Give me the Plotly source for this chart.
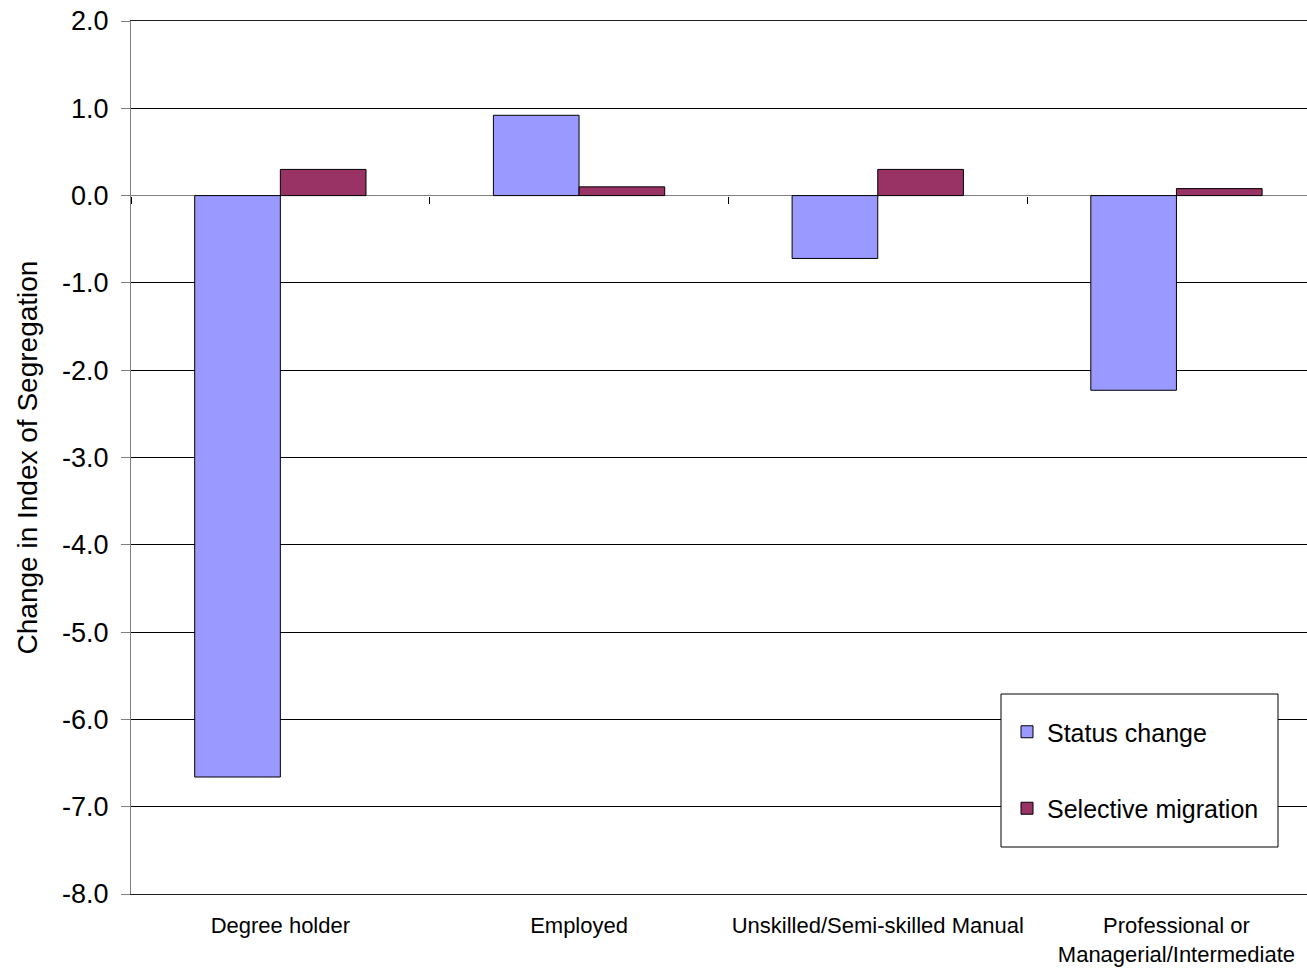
import plotly.graph_objects as go

categories = ["Degree holder", "Employed", "Unskilled/Semi-skilled Manual",
              "Professional or<br>Managerial/Intermediate"]
status_change = [-6.66, 0.92, -0.72, -2.23]
selective_migration = [0.30, 0.10, 0.30, 0.08]
y_ticks = [2, 1, 0, -1, -2, -3, -4, -5, -6, -7, -8]
y_tick_text = ["%.1f" % v for v in y_ticks]

FONT = "Liberation Sans, Arial, sans-serif"
W, H = 1307, 968
L, R, T, B = 131, 0, 21, 74
plot_w = W - L - R
plot_h = H - T - B

fig = go.Figure()
fig.add_trace(go.Bar(
    name="Status change", x=categories, y=status_change,
    marker=dict(color="#9999FF", line=dict(color="#000000", width=1)),
    legendgroup="a",
))
fig.add_trace(go.Bar(
    name="Selective migration", x=categories, y=selective_migration,
    marker=dict(color="#993366", line=dict(color="#000000", width=1)),
    legendgroup="b",
))
# helper axis that carries the category-boundary ticks along the zero line
fig.add_trace(go.Scatter(x=categories, y=[0] * len(categories), xaxis="x2",
                         mode="none", showlegend=False, hoverinfo="skip"))


def px_to_paper_x(px):
    return (px - L) / plot_w


def px_to_paper_y(py):
    return (H - B - py) / plot_h


# legend frame
fig.add_shape(type="rect", xref="paper", yref="paper", layer="above",
              x0=px_to_paper_x(1001), x1=px_to_paper_x(1278),
              y0=px_to_paper_y(847), y1=px_to_paper_y(694),
              fillcolor="white", line=dict(color="#000000", width=1))

x_range = [-0.5, -0.5 + plot_w / 298.7]

fig.update_layout(
    width=W, height=H,
    margin=dict(l=L, r=R, t=T, b=B, pad=0),
    paper_bgcolor="white", plot_bgcolor="white",
    barmode="group", bargap=0.4265, bargroupgap=0,
    font=dict(family=FONT, color="#000000"),
    showlegend=True,
    legend=dict(
        x=px_to_paper_x(1007), xanchor="left",
        y=px_to_paper_y(709), yanchor="top",
        bgcolor="rgba(0,0,0,0)", borderwidth=0,
        font=dict(size=25, family=FONT, color="#000000"),
        traceorder="grouped", tracegroupgap=41,
    ),
    xaxis=dict(
        type="category", range=x_range,
        showline=True, linecolor="#202020", linewidth=1, mirror=True,
        showgrid=False, ticks="", zeroline=False,
        tickfont=dict(size=22, family=FONT, color="#000000"),
        ticklabelstandoff=12,
    ),
    xaxis2=dict(
        type="category", overlaying="x", anchor="free",
        position=0.8, range=x_range, matches="x",
        showline=False, showgrid=False, showticklabels=False,
        ticks="outside", ticklen=7, tickcolor="#000000", tickwidth=1,
        tickson="boundaries",
    ),
    yaxis=dict(
        range=[-8, 2], tickvals=y_ticks, ticktext=y_tick_text,
        showgrid=True, gridcolor="#000000", gridwidth=1,
        zeroline=True, zerolinecolor="#808080", zerolinewidth=1,
        showline=True, linecolor="#808080", linewidth=1,
        ticks="outside", ticklen=9, tickcolor="#808080",
        tickfont=dict(size=27, family=FONT, color="#000000"),
        ticklabelstandoff=7,
        title=dict(text="Change in Index of Segregation",
                   font=dict(size=28, family=FONT, color="#000000"),
                   standoff=16),
    ),
)

fig.write_html("out.html")
